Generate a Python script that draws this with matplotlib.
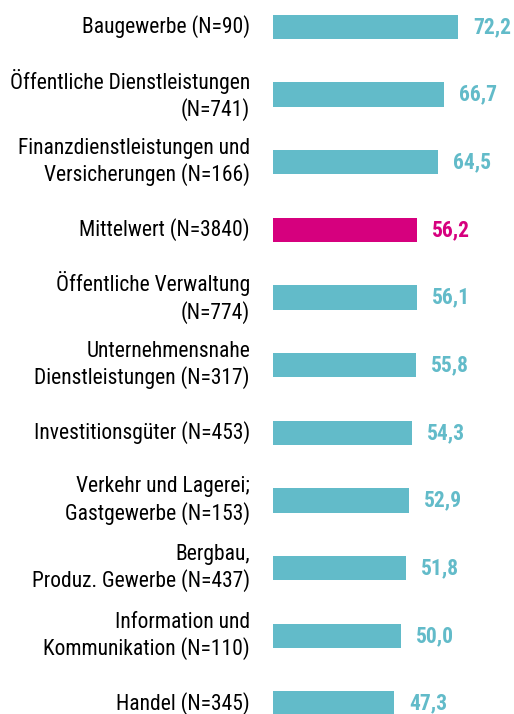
import matplotlib
matplotlib.use("Agg")
import matplotlib.pyplot as plt

plt.rcParams["font.family"] = ["Roboto Condensed", "Archivo Narrow", "DejaVu Sans"]

categories = [
    "Baugewerbe (N=90)",
    "Öffentliche Dienstleistungen\n(N=741)",
    "Finanzdienstleistungen und\nVersicherungen (N=166)",
    "Mittelwert (N=3840)",
    "Öffentliche Verwaltung\n(N=774)",
    "Unternehmensnahe\nDienstleistungen (N=317)",
    "Investitionsgüter (N=453)",
    "Verkehr und Lagerei;\nGastgewerbe (N=153)",
    "Bergbau,\nProduz. Gewerbe (N=437)",
    "Information und\nKommunikation (N=110)",
    "Handel (N=345)",
]
values = [72.2, 66.7, 64.5, 56.2, 56.1, 55.8, 54.3, 52.9, 51.8, 50.0, 47.3]
highlight = "Mittelwert (N=3840)"

teal = "#62BBC9"
magenta = "#D6007E"
colors = [magenta if c == highlight else teal for c in categories]

fig = plt.figure(figsize=(5.14, 7.14), dpi=100)
ax = fig.add_axes([273 / 514, 0, 1 - 273 / 514, 1])

# bars: 2.563 px per unit, 67.65 px between bar centres
ypos = list(range(len(values)))
ax.barh(ypos, values, height=0.36, color=colors)
ax.set_xlim(0, 241 / 2.563)
ax.set_ylim(687 / 67.65, -27 / 67.65)

for y, v, c, lab in zip(ypos, values, colors, categories):
    ax.text(v + 15 / 2.563, y, f"{v:.1f}".replace(".", ","), color=c,
            fontsize=15.5, fontweight="bold", va="center", ha="left")
    ax.text(-23 / 2.563, y, lab, color="black", fontsize=15.5,
            va="center", ha="right", linespacing=1.24)

ax.axis("off")
fig.savefig("out.png", dpi=100)
